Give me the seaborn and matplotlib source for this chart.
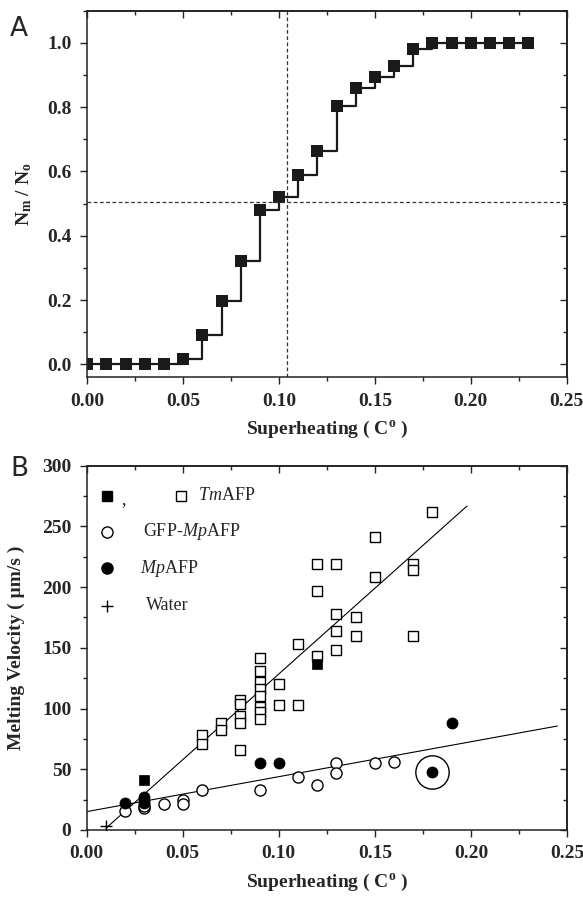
import numpy as np
import pandas as pd
import matplotlib
matplotlib.use("Agg")
import matplotlib.pyplot as plt
import seaborn as sns
from matplotlib.ticker import MultipleLocator, FormatStrFormatter

# ---- panel A: fraction of melted crystals vs superheating
sh_a = [0.00, 0.01, 0.02, 0.03, 0.04, 0.05, 0.06, 0.07, 0.08, 0.09, 0.10, 0.11,
        0.12, 0.13, 0.14, 0.15, 0.16, 0.17, 0.18, 0.19, 0.20, 0.21, 0.22, 0.23]
frac_a = [0.0, 0.0, 0.0, 0.0, 0.0, 0.018, 0.090, 0.197, 0.322, 0.481, 0.519, 0.590,
          0.663, 0.803, 0.859, 0.894, 0.929, 0.982, 1.0, 1.0, 1.0, 1.0, 1.0, 1.0]
half_level = 0.505
half_sh = 0.104

# ---- panel B: melting velocity vs superheating
tm_open_x = [0.06, 0.06, 0.07, 0.07, 0.08, 0.08, 0.08, 0.08, 0.08,
             0.09, 0.09, 0.09, 0.09, 0.09, 0.09, 0.09, 0.09,
             0.10, 0.10, 0.11, 0.11, 0.12, 0.12, 0.12,
             0.13, 0.13, 0.13, 0.13, 0.14, 0.14, 0.15, 0.15,
             0.17, 0.17, 0.17, 0.18]
tm_open_y = [78, 71, 88, 82, 107, 104, 94, 88, 66,
             142, 131, 122, 116, 110, 101, 97, 91,
             120, 103, 153, 103, 219, 197, 143,
             219, 178, 164, 148, 175, 160, 241, 208,
             219, 214, 160, 262]
tm_fill_x = [0.03, 0.12]
tm_fill_y = [41, 137]
gfp_x = [0.02, 0.03, 0.03, 0.04, 0.05, 0.05, 0.06, 0.09, 0.11, 0.12, 0.13, 0.13, 0.15, 0.16]
gfp_y = [16, 18, 20, 21, 25, 21, 33, 33, 44, 37, 55, 47, 55, 56]
mp_x = [0.02, 0.03, 0.03, 0.03, 0.09, 0.10, 0.18, 0.19]
mp_y = [22, 27, 24, 22, 55, 55, 48, 88]
mp_marked_x = [0.18]
mp_marked_y = [48]
water_x = [0.01]
water_y = [3]
tm_fit_x = [0.010, 0.198]
tm_fit_y = [1.4, 266.8]
mp_fit_x = [0.0, 0.245]
mp_fit_y = [15.1, 85.6]

legend_labels = [r"$\mathit{Tm}$AFP", r"GFP-$\mathit{Mp}$AFP", r"$\mathit{Mp}$AFP", "Water"]

sns.set_theme(style="ticks")
plt.rcParams["font.family"] = ["Liberation Serif", "DejaVu Serif"]
plt.rcParams["font.weight"] = "bold"
plt.rcParams["axes.labelweight"] = "bold"
plt.rcParams["mathtext.fontset"] = "custom"
plt.rcParams["mathtext.rm"] = "Liberation Serif:weight=bold"
plt.rcParams["mathtext.it"] = "Liberation Serif:style=italic:weight=normal"
plt.rcParams["mathtext.bf"] = "Liberation Serif:weight=bold"

fig = plt.figure(figsize=(5.83, 8.99), dpi=100)
ax_a = fig.add_axes([0.1497, 0.5803, 0.8223, 0.4079])
ax_b = fig.add_axes([0.1487, 0.0768, 0.8238, 0.4052])


def style_axis(ax, xmaj, xmin, ymaj, ymin, xfmt, yfmt):
    ax.xaxis.set_major_locator(MultipleLocator(xmaj))
    ax.xaxis.set_minor_locator(MultipleLocator(xmin))
    ax.yaxis.set_major_locator(MultipleLocator(ymaj))
    ax.yaxis.set_minor_locator(MultipleLocator(ymin))
    ax.xaxis.set_major_formatter(FormatStrFormatter(xfmt))
    ax.yaxis.set_major_formatter(FormatStrFormatter(yfmt))
    ax.tick_params(which="major", direction="out", length=5, width=1, color="#222222",
                   labelsize=14, pad=6)
    ax.tick_params(which="minor", direction="out", length=3, width=1, color="#222222")
    for sp in ax.spines.values():
        sp.set_linewidth(1.1)
        sp.set_color("#222222")
        sp.set_visible(True)
    top = ax.secondary_xaxis("top")
    top.xaxis.set_major_locator(MultipleLocator(xmaj))
    top.xaxis.set_minor_locator(MultipleLocator(xmin))
    top.tick_params(which="major", direction="in", length=5, width=1, labeltop=False)
    top.tick_params(which="minor", direction="in", length=3, width=1)
    right = ax.secondary_yaxis("right")
    right.yaxis.set_major_locator(MultipleLocator(ymaj))
    right.yaxis.set_minor_locator(MultipleLocator(ymin))
    right.tick_params(which="major", direction="in", length=5, width=1, labelright=False)
    right.tick_params(which="minor", direction="in", length=3, width=1)


# ---- panel A
sns.lineplot(x=sh_a, y=frac_a, ax=ax_a, drawstyle="steps-post", color="#1a1a1a",
             linewidth=1.6, marker="s", markersize=8.5, markeredgewidth=0, estimator=None)
ax_a.axhline(half_level, color="#333333", linestyle=(0, (3, 2)), linewidth=0.9)
ax_a.axvline(half_sh, color="#333333", linestyle=(0, (3, 2)), linewidth=0.9)
ax_a.set_xlim(0, 0.25)
ax_a.set_ylim(-0.04, 1.10)
style_axis(ax_a, 0.05, 0.025, 0.2, 0.1, "%.2f", "%.1f")
ax_a.set_xlabel(r"Superheating ( C$^\mathbf{o}$ )", fontsize=14, fontweight="bold", labelpad=7)
ax_a.set_ylabel(r"N$_\mathbf{m}$ / N$_\mathbf{o}$", fontsize=14, fontweight="bold", labelpad=10)
fig.text(0.017, 0.968, "A", fontsize=19, family="DejaVu Sans", fontweight="normal",
         va="center")

# ---- panel B
sns.lineplot(x=tm_fit_x, y=tm_fit_y, ax=ax_b, color="black", linewidth=0.8, zorder=2)
sns.lineplot(x=mp_fit_x, y=mp_fit_y, ax=ax_b, color="black", linewidth=0.8, zorder=2)
sns.scatterplot(x=tm_open_x, y=tm_open_y, ax=ax_b, marker="s", s=60, facecolor="white",
                edgecolor="black", linewidth=1.0, zorder=3)
sns.scatterplot(x=gfp_x, y=gfp_y, ax=ax_b, marker="o", s=64, facecolor="white",
                edgecolor="black", linewidth=1.0, zorder=3)
sns.scatterplot(x=mp_x, y=mp_y, ax=ax_b, marker="o", s=64, color="black",
                edgecolor="black", linewidth=0.5, zorder=4)
sns.scatterplot(x=tm_fill_x, y=tm_fill_y, ax=ax_b, marker="s", s=60, color="black",
                edgecolor="black", linewidth=0.5, zorder=4)
ax_b.plot(mp_marked_x, mp_marked_y, marker="o", markersize=24, fillstyle="none",
          color="black", markeredgewidth=1.0, linestyle="none", zorder=4)
ax_b.plot(water_x, water_y, marker="+", markersize=9, color="black",
          markeredgewidth=1.0, linestyle="none", zorder=4)
ax_b.set_xlim(0, 0.25)
ax_b.set_ylim(0, 300)
style_axis(ax_b, 0.05, 0.025, 50, 25, "%.2f", "%d")
ax_b.set_xlabel(r"Superheating ( C$^\mathbf{o}$ )", fontsize=14, fontweight="bold", labelpad=7)
ax_b.set_ylabel("Melting Velocity ( \u00b5m/s )", fontsize=14, fontweight="bold", labelpad=12)
fig.text(0.017, 0.478, "B", fontsize=19, family="DejaVu Sans", fontweight="normal",
         va="center")

# legend drawn like the original (symbols + text rows in axes fraction)
tr = ax_b.transAxes
key_x = 0.042
rows = [0.918, 0.819, 0.718, 0.616]
ax_b.plot([key_x], [rows[0]], marker="s", markersize=7.5, color="black", transform=tr,
          linestyle="none")
ax_b.text(0.073, rows[0] - 0.012, ",", fontsize=13, fontweight="normal", transform=tr,
          va="center")
ax_b.plot([0.196], [rows[0]], marker="s", markersize=7.5, markerfacecolor="white",
          markeredgecolor="black", markeredgewidth=1.0, transform=tr, linestyle="none")
ax_b.plot([key_x], [rows[1]], marker="o", markersize=8, markerfacecolor="white",
          markeredgecolor="black", markeredgewidth=1.0, transform=tr, linestyle="none")
ax_b.plot([key_x], [rows[2]], marker="o", markersize=8, color="black", transform=tr,
          linestyle="none")
ax_b.plot([key_x], [rows[3]], marker="+", markersize=9, color="black",
          markeredgewidth=1.0, transform=tr, linestyle="none")
text_x = [0.232, 0.118, 0.111, 0.124]
for tx, ty, lab in zip(text_x, rows, legend_labels):
    ax_b.text(tx, ty, lab, fontsize=13, fontweight="normal", transform=tr, va="center")

fig.savefig("out.png", dpi=100)
